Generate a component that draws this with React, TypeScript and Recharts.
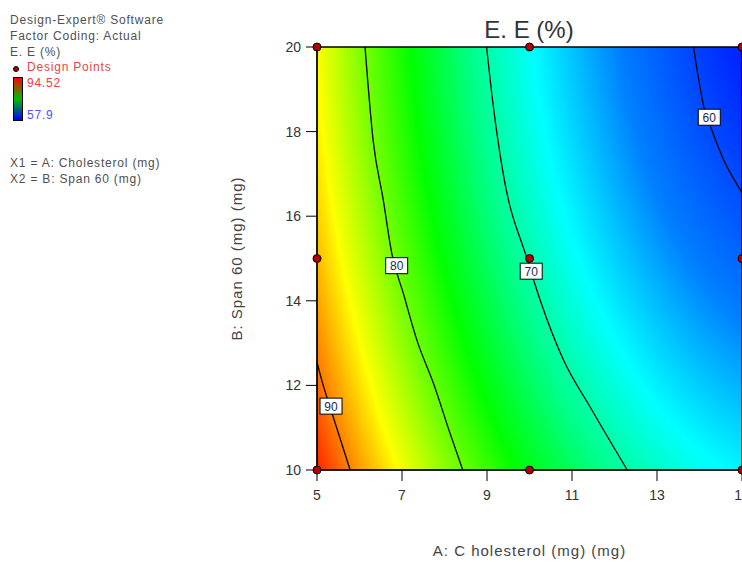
import React from 'react'
import {
    ComposedChart,
    XAxis,
    YAxis,
    Line,
    Scatter,
    ReferenceArea,
    Label
} from 'recharts'

// A: Cholesterol (mg) on x, B: Span 60 (mg) on y
const xTicks = [5, 7, 9, 11, 13, 15]
const yTicks = [10, 12, 14, 16, 18, 20]

const designPoints = [
    { a: 5, b: 20 }, { a: 10, b: 20 }, { a: 15, b: 20 },
    { a: 5, b: 15 }, { a: 10, b: 15 }, { a: 15, b: 15 },
    { a: 5, b: 10 }, { a: 10, b: 10 }, { a: 15, b: 10 }
]

// contour lines of E. E (%)
const contour60 = [
    { a: 13.86, b: 20 }, { a: 13.97, b: 19.3 }, { a: 14.1, b: 18.59 },
    { a: 14.29, b: 18.04 }, { a: 14.57, b: 17.33 }, { a: 14.96, b: 16.62 },
    { a: 15, b: 16.55 }
]
const contour70 = [
    { a: 8.99, b: 20 }, { a: 9.15, b: 18.59 }, { a: 9.38, b: 17.01 },
    { a: 9.94, b: 15.0 }, { a: 10.25, b: 14.02 }, { a: 10.8, b: 12.6 },
    { a: 11.42, b: 11.5 }, { a: 12.3, b: 10 }
]
const contour80 = [
    { a: 6.13, b: 20 }, { a: 6.32, b: 17.8 }, { a: 6.56, b: 16.38 },
    { a: 6.76, b: 15.12 }, { a: 7.03, b: 14.18 }, { a: 7.35, b: 13.07 },
    { a: 7.74, b: 12.05 }, { a: 8.13, b: 10.87 }, { a: 8.43, b: 10 }
]
const contour90 = [
    { a: 5.0, b: 12.55 }, { a: 5.11, b: 12.13 }, { a: 5.38, b: 11.26 },
    { a: 5.78, b: 10 }
]

const contourLabels = [
    { a: 5.33, b: 11.51, text: '90' },
    { a: 6.875, b: 14.83, text: '80' },
    { a: 10.04, b: 14.7, text: '70' },
    { a: 14.23, b: 18.34, text: '60' }
]

const legendLines = ['Design-Expert® Software', 'Factor Coding: Actual', 'E. E (%)']
const factorLines = ['X1 = A: Cholesterol (mg)', 'X2 = B: Span 60 (mg)']
const rangeHigh = '94.52'
const rangeLow = '57.9'

// colour field: elliptical gradient, stops at the colour-map levels (blue..red)
const fieldStops = [
    { offset: 0, color: '#0000ff' },
    { offset: 0.115, color: '#0000ff' },
    { offset: 0.368, color: '#0080ff' },
    { offset: 0.507, color: '#00ffff' },
    { offset: 0.615, color: '#00ff80' },
    { offset: 0.707, color: '#00ff00' },
    { offset: 0.789, color: '#80ff00' },
    { offset: 0.862, color: '#ffff00' },
    { offset: 0.93, color: '#ff8000' },
    { offset: 0.994, color: '#ff0000' },
    { offset: 1, color: '#ff0000' }
]

const FONT = '"Liberation Sans", Arial, Helvetica, sans-serif'

const DesignDot = (p: any) => (
    <circle cx={p.cx} cy={p.cy} r={4} fill="#b00000" stroke="#000" strokeWidth={1} />
)

const ContourTag = (p: any) => (
    <g>
        <rect x={p.cx - 11} y={p.cy - 8} width={22} height={16} fill="#fff" stroke="#000" strokeWidth={1} />
        <text x={p.cx} y={p.cy + 4.5} textAnchor="middle" fontSize={12} fontFamily={FONT} fill="#1c2a4a">
            {p.payload.text}
        </text>
    </g>
)

const contours = [contour60, contour70, contour80, contour90]

export default function App() {
    return (
        <div style={{ position: 'fixed', left: 0, top: 0, width: 742, height: 562, overflow: 'hidden', background: '#fff', fontFamily: FONT }}>
            <svg width={0} height={0} style={{ position: 'absolute' }}>
                <defs>
                    <radialGradient id="eeField" cx={0} cy={0} r={1} fx={0} fy={0}
                        gradientUnits="objectBoundingBox"
                        gradientTransform="translate(1.22 -0.22) scale(1.4256 2.591)">
                        {fieldStops.map((s, i) => <stop key={i} offset={s.offset} stopColor={s.color} />)}
                    </radialGradient>
                </defs>
            </svg>

            <div style={{ position: 'absolute', left: 10, top: 12, fontSize: 12, letterSpacing: 0.8, color: '#505050', lineHeight: '16px' }}>
                {legendLines.map((t) => <div key={t}>{t}</div>)}
            </div>
            <svg width={12} height={12} style={{ position: 'absolute', left: 10, top: 63 }}>
                <circle cx={6} cy={6} r={2.5} fill="#b00000" stroke="#000" strokeWidth={1} />
            </svg>
            <div style={{ position: 'absolute', left: 27, top: 59, fontSize: 12, letterSpacing: 0.8, color: '#e04848', lineHeight: '16px' }}>Design Points</div>
            <div style={{ position: 'absolute', left: 13, top: 77, width: 8, height: 42, border: '1.5px solid #000', background: 'linear-gradient(#ff0000, #00c000, #0000ff)' }} />
            <div style={{ position: 'absolute', left: 27, top: 75, fontSize: 12, letterSpacing: 0.8, color: '#f03c3c', lineHeight: '16px' }}>{rangeHigh}</div>
            <div style={{ position: 'absolute', left: 27, top: 107, fontSize: 12, letterSpacing: 0.8, color: '#5050ff', lineHeight: '16px' }}>{rangeLow}</div>
            <div style={{ position: 'absolute', left: 10, top: 155, fontSize: 12, letterSpacing: 0.8, color: '#505050', lineHeight: '16px' }}>
                {factorLines.map((t) => <div key={t}>{t}</div>)}
            </div>

            <div style={{ position: 'absolute', left: 429, width: 200, top: 18, textAlign: 'center', fontSize: 24, lineHeight: '24px', color: '#333' }}>
                E. E (%)
            </div>

            <div style={{ position: 'absolute', left: 0, top: 0 }}>
                <ComposedChart width={790} height={562} margin={{ top: 47, right: 48, left: 0, bottom: 0 }}>
                    <XAxis
                        type="number"
                        dataKey="a"
                        domain={[5, 15]}
                        ticks={xTicks}
                        height={92}
                        tickSize={11}
                        tickMargin={9}
                        stroke="#000"
                        tick={{ fill: '#333', fontSize: 14, fontFamily: FONT }}
                    >
                        <Label
                            content={({ viewBox }: any) => (
                                <text x={viewBox.x + viewBox.width / 2} y={viewBox.y + 86} textAnchor="middle"
                                    fontSize={15} fontFamily={FONT} fill="#444" style={{ letterSpacing: 1 }}>
                                    A: C holesterol (mg) (mg)
                                </text>
                            )}
                        />
                    </XAxis>
                    <YAxis
                        type="number"
                        dataKey="b"
                        domain={[10, 20]}
                        ticks={yTicks}
                        width={317}
                        tickSize={11}
                        tickMargin={5}
                        stroke="#000"
                        tick={{ fill: '#333', fontSize: 14, fontFamily: FONT }}
                    >
                        <Label
                            content={({ viewBox }: any) => {
                                const cy = viewBox.y + viewBox.height / 2
                                return (
                                    <text x={242} y={cy} textAnchor="middle" transform={`rotate(-90 242 ${cy})`}
                                        fontSize={15} fontFamily={FONT} fill="#444" style={{ letterSpacing: 1 }}>
                                        B: Span 60 (mg) (mg)
                                    </text>
                                )
                            }}
                        />
                    </YAxis>
                    <ReferenceArea x1={5} x2={15} y1={10} y2={20} fill="url(#eeField)" fillOpacity={1} stroke="#000" strokeWidth={1.5} />
                    {contours.map((c, i) => (
                        <Line key={i} data={c} dataKey="b" type="monotone" stroke="#000" strokeWidth={1.3}
                            dot={false} activeDot={false} isAnimationActive={false} />
                    ))}
                    <Scatter data={designPoints} shape={DesignDot} isAnimationActive={false} />
                    <Scatter data={contourLabels} shape={ContourTag} isAnimationActive={false} />
                </ComposedChart>
            </div>
        </div>
    )
}
